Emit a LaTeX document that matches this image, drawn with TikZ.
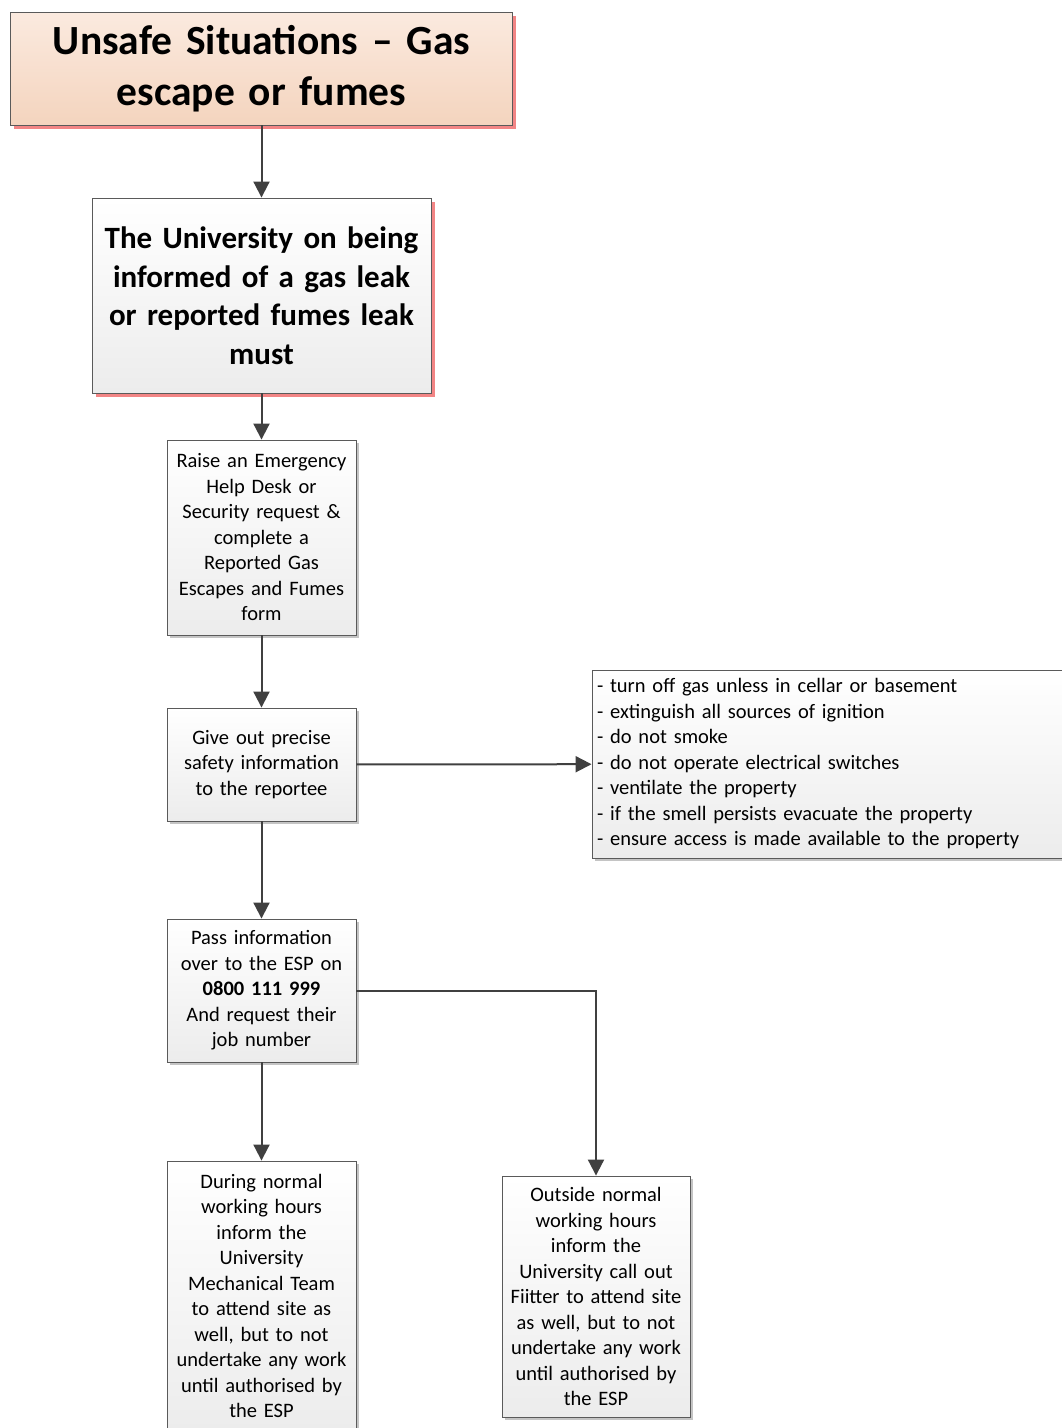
\documentclass[tikz,border=0pt]{standalone}
\usepackage{fontspec}
\setmainfont{Carlito}
\usetikzlibrary{shadows,arrows.meta}
\definecolor{edge}{HTML}{5A5A5A}
\definecolor{conn}{HTML}{404040}
\definecolor{peachtop}{HTML}{FBEADF}
\definecolor{peachbot}{HTML}{F4D4BE}
\definecolor{boxbot}{HTML}{ECECEC}
\definecolor{shred}{HTML}{F28585}
\definecolor{shgray}{HTML}{C4C4C4}
\begin{document}
\begin{tikzpicture}[x=1pt,y=-1pt,
  basebox/.style={draw=edge, line width=0.9pt, inner sep=0pt, align=center},
  headbox/.style={basebox, top color=peachtop, bottom color=peachbot,
    drop shadow={shadow xshift=3.5pt, shadow yshift=-3.5pt, fill=shred, opacity=1}},
  leadbox/.style={basebox, top color=white, bottom color=boxbot,
    drop shadow={shadow xshift=3.5pt, shadow yshift=-3.5pt, fill=shred, opacity=1}},
  stepbox/.style={basebox, top color=white, bottom color=boxbot,
    minimum width=189pt, text width=187pt,
    font=\fontsize{20.5}{25.5}\selectfont,
    drop shadow={shadow xshift=3pt, shadow yshift=-3pt, fill=shgray, opacity=1}},
  link/.style={draw=conn, line width=2pt, -{Triangle[length=16pt,width=16pt]}}
]
\useasboundingbox (0,0) rectangle (1061,1428);

% main column
\node[headbox, minimum width=502pt, minimum height=113pt, text width=498pt,
      font=\bfseries\fontsize{41.5}{51}\selectfont] (title) at (261.5,68.5)
  {Unsafe Situations -- Gas\\escape or fumes};
\node[leadbox, minimum width=339pt, minimum height=195pt, text width=337pt,
      font=\bfseries\fontsize{31}{38.5}\selectfont] (uni) at (261.5,295.5)
  {The University on being\\informed of a gas leak\\or reported fumes leak\\must};
\node[stepbox, minimum height=195pt] (raise) at (261.5,537.5)
  {Raise an Emergency\\Help Desk or\\Security request \&\\complete a\\Reported Gas\\Escapes and Fumes\\form};
\node[stepbox, minimum height=113pt] (give) at (261.5,764.5)
  {Give out precise\\safety information\\to the reportee};
\node[stepbox, minimum height=143pt] (pass) at (261.5,990.5)
  {Pass information\\over to the ESP on\\\textbf{0800 111 999}\\And request their\\job number};
\node[stepbox, minimum height=270pt] (during) at (261.5,1296)
  {During normal\\working hours\\inform the\\University\\Mechanical Team\\to attend site as\\well, but to not\\undertake any work\\until authorised by\\the ESP};
\node[stepbox, minimum width=188pt, minimum height=241pt] (outside) at (596,1296.5)
  {Outside normal\\working hours\\inform the\\University call out\\Fiitter to attend site\\as well, but to not\\undertake any work\\until authorised by\\the ESP};

% safety advice list
\node[stepbox, minimum width=475pt, text width=465pt, minimum height=188pt, align=left] (tips) at (829.5,764)
  {- turn off gas unless in cellar or basement\\
   - extinguish all sources of ignition\\
   - do not smoke\\
   - do not operate electrical switches\\
   - ventilate the property\\
   - if the smell persists evacuate the property\\
   - ensure access is made available to the property};

% connectors
\draw[link] (title) -- (uni);
\draw[link] (uni) -- (raise);
\draw[link] (raise) -- (give);
\draw[link] (give) -- (tips);
\draw[link] (give) -- (pass);
\draw[link] (pass) -- (during);
\draw[link] (pass.east) -| (outside.north);
\end{tikzpicture}
\end{document}
